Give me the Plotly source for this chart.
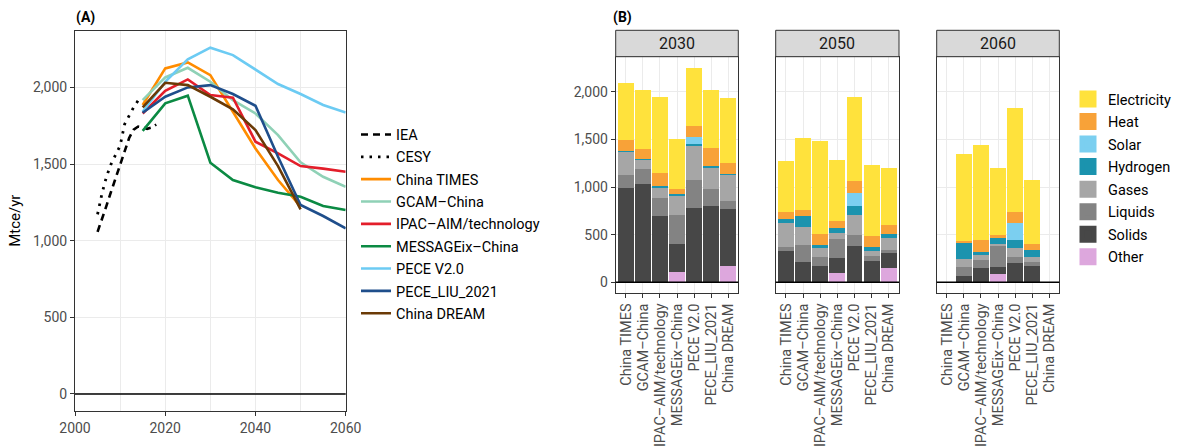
import plotly.graph_objects as go

W, H = 1181, 446

# ---------------- Panel A data ----------------
YEARS = [2015, 2020, 2025, 2030, 2035, 2040, 2045, 2050, 2055, 2060]

IEA_YEARS = list(range(2005, 2019))
IEA_VALUES = [1058, 1140, 1230, 1320, 1410, 1500, 1590, 1670, 1725, 1745, 1740, 1730, 1738, 1758]

CESY_YEARS = list(range(2005, 2015))
CESY_VALUES = [1172, 1310, 1420, 1500, 1560, 1620, 1760, 1820, 1870, 1915]

CHINA_TIMES = [1885, 2124, 2163, 2080, 1841, 1602, 1396, 1222, None, None]
GCAM_CHINA = [1917, 2065, 2128, 2037, 1917, 1830, 1689, 1511, 1417, 1352]
IPAC_AIM = [1830, 1978, 2052, 1950, 1933, 1646, 1570, 1487, 1470, 1450]
MESSAGEIX = [1717, 1896, 1946, 1509, 1396, 1348, 1313, 1287, 1226, 1200]
PECE_V2 = [1841, 2037, 2183, 2259, 2211, 2118, 2022, 1957, 1885, 1837]
PECE_LIU = [1835, 1939, 2000, 2015, 1957, 1880, 1548, 1233, 1161, 1080]
CHINA_DREAM = [1870, 2030, 2015, 1939, 1857, 1722, 1487, 1204, None, None]

MODELS = ["China TIMES", "GCAM–China", "IPAC–AIM/technology", "MESSAGEix–China",
          "PECE V2.0", "PECE_LIU_2021", "China DREAM"]
MODEL_SERIES = [CHINA_TIMES, GCAM_CHINA, IPAC_AIM, MESSAGEIX, PECE_V2, PECE_LIU, CHINA_DREAM]
MODEL_COLORS = ["#FF8C00", "#8FD1B6", "#E31E2A", "#0B8A43", "#6CCBF3", "#1F4E8B", "#6B3A06"]

# ---------------- Panel B data ----------------
CARRIERS = ["Other", "Solids", "Liquids", "Gases", "Hydrogen", "Solar", "Heat", "Electricity"]
CARRIER_COLORS = {
    "Electricity": "#FFE23C", "Heat": "#F8A238", "Solar": "#7BCFF0", "Hydrogen": "#1B93AE",
    "Gases": "#A6A6A6", "Liquids": "#838383", "Solids": "#474747", "Other": "#DDA7DD",
}
FACET_YEARS = ["2030", "2050", "2060"]

# order of values follows MODELS
BARS_2030 = {
    "Other":       [0, 0, 0, 112, 0, 0, 175],
    "Solids":      [991, 1037, 701, 294, 781, 806, 599],
    "Liquids":     [140, 154, 189, 305, 294, 178, 84],
    "Gases":       [242, 102, 112, 203, 365, 228, 273],
    "Hydrogen":    [11, 7, 10, 11, 10, 7, 11],
    "Solar":       [0, 0, 0, 0, 74, 0, 0],
    "Heat":        [115, 105, 140, 59, 122, 196, 116],
    "Electricity": [592, 620, 799, 526, 606, 610, 683],
}
BARS_2050 = {
    "Other":       [0, 0, 0, 102, 0, 0, 154],
    "Solids":      [333, 217, 175, 157, 385, 228, 158],
    "Liquids":     [38, 179, 95, 200, 116, 52, 31],
    "Gases":       [256, 189, 94, 63, 210, 53, 126],
    "Hydrogen":    [42, 116, 32, 52, 95, 42, 42],
    "Solar":       [0, 0, 0, 0, 136, 0, 0],
    "Heat":        [74, 63, 115, 74, 126, 115, 95],
    "Electricity": [536, 756, 978, 641, 883, 747, 599],
}
BARS_2060 = {
    "Other":       [None, 0, 0, 91, 0, 0, None],
    "Solids":      [None, 70, 154, 74, 207, 175, None],
    "Liquids":     [None, 95, 84, 220, 63, 42, None],
    "Gases":       [None, 84, 53, 21, 94, 53, None],
    "Hydrogen":    [None, 168, 31, 63, 84, 73, None],
    "Solar":       [None, 0, 0, 0, 172, 0, None],
    "Heat":        [None, 21, 126, 32, 116, 63, None],
    "Electricity": [None, 914, 999, 704, 1100, 673, None],
}
FACET_DATA = [BARS_2030, BARS_2050, BARS_2060]

# ---------------- Layout geometry (pixels) ----------------
def fx(px):
    return px / W

def fy(py):
    return 1 - py / H

FONT = "Roboto"
TICK_COLOR = "#4D4D4D"
GRID = "#EBEBEB"
BORDER = "#333333"
YRANGE = [-109, 2370]

fig = go.Figure()

# ---- Panel A traces ----
fig.add_trace(go.Scatter(x=IEA_YEARS, y=IEA_VALUES, mode="lines", name="IEA",
                         line=dict(color="black", width=2.6, dash="7px,5px"),
                         xaxis="x", yaxis="y", legend="legend", legendgroup="IEA"))
fig.add_trace(go.Scatter(x=CESY_YEARS, y=CESY_VALUES, mode="lines", name="CESY",
                         line=dict(color="black", width=2.8, dash="2.5px,6px"),
                         xaxis="x", yaxis="y", legend="legend", legendgroup="CESY"))
for name, vals, col in zip(MODELS, MODEL_SERIES, MODEL_COLORS):
    fig.add_trace(go.Scatter(x=YEARS, y=vals, mode="lines", name=name,
                             line=dict(color=col, width=2.6),
                             xaxis="x", yaxis="y", legend="legend", legendgroup=name))

# ---- Panel B traces ----
for i, data in enumerate(FACET_DATA):
    xa = "x%d" % (i + 2)
    ya = "y%d" % (i + 2)
    for c in CARRIERS:
        fig.add_trace(go.Bar(x=MODELS, y=data[c], name=c, showlegend=False,
                             marker=dict(color=CARRIER_COLORS[c], line=dict(width=0)),
                             xaxis=xa, yaxis=ya, legendgroup="b_" + c))

# legend entries for panel B (Electricity on top)
for c in reversed(CARRIERS):
    fig.add_trace(go.Bar(x=[None], y=[None], name=c, showlegend=True,
                         marker=dict(color=CARRIER_COLORS[c],
                                     line=dict(color=CARRIER_COLORS[c], width=5)),
                         xaxis="x2", yaxis="y2", legend="legend2", legendgroup="b_" + c))

# ---- Axes ----
axis_common = dict(showline=True, mirror=True, linecolor=BORDER, linewidth=1,
                   gridcolor=GRID, gridwidth=1, zeroline=False, automargin=False,
                   tickfont=dict(family=FONT, size=14, color=TICK_COLOR),
                   ticks="outside", ticklen=4, tickcolor=BORDER)

layout = dict(
    width=W, height=H, margin=dict(l=0, r=0, t=0, b=0, autoexpand=False),
    paper_bgcolor="white", plot_bgcolor="white",
    barmode="stack", bargap=0.07,
    font=dict(family=FONT, size=13, color="black"),
    xaxis=dict(axis_common, domain=[fx(75), fx(345.7)], range=[2000, 2060],
               dtick=20, tick0=2000, anchor="y",
               minor=dict(dtick=10, showgrid=True, gridcolor=GRID, ticks="")),
    yaxis=dict(axis_common, domain=[fy(410.7), fy(30.7)], range=YRANGE,
               tickvals=[0, 500, 1000, 1500, 2000], tickformat=",", anchor="x",
               title=dict(text="Mtce/yr", font=dict(family=FONT, size=15, color="black"),
                          standoff=8)),
)

facet_x = [(615.7, 738.3), (775.7, 899.0), (936.7, 1059.3)]
for i, (a, b) in enumerate(facet_x):
    k = i + 2
    layout["xaxis%d" % k] = dict(axis_common, domain=[fx(a), fx(b)], type="category",
                                 categoryorder="array", categoryarray=MODELS,
                                 tickmode="array", tickvals=MODELS, ticktext=MODELS,
                                 range=[-0.6, 6.6], anchor="y%d" % k, tickangle=-90,
                                 tickfont=dict(family=FONT, size=14.5, color=TICK_COLOR))
    ya = dict(axis_common, domain=[fy(292.7), fy(56.7)], range=YRANGE,
              tickvals=[0, 500, 1000, 1500, 2000], tickformat=",",
              anchor="x%d" % k, showgrid=True)
    if k > 2:
        ya.update(matches="y2", showticklabels=False, ticks="")
    layout["yaxis%d" % k] = ya

layout["legend"] = dict(x=fx(356), y=fy(118.5), xanchor="left", yanchor="top",
                        font=dict(family=FONT, size=14.5, color="black"),
                        tracegroupgap=0.5, bgcolor="rgba(0,0,0,0)", traceorder="grouped")
layout["legend2"] = dict(x=fx(1068), y=fy(83), xanchor="left", yanchor="top",
                         font=dict(family=FONT, size=14.5, color="black"),
                         tracegroupgap=0.7, bgcolor="rgba(0,0,0,0)", traceorder="grouped",
                         itemsizing="trace")

fig.update_layout(**layout)

# ---- Shapes: zero lines, strips ----
shapes = []
shapes.append(dict(type="line", xref="x domain", x0=0, x1=1, yref="y", y0=0, y1=0,
                   line=dict(color="black", width=1.4), layer="above"))
for i, yr in enumerate(FACET_YEARS):
    k = i + 2
    xr = "x%d domain" % k
    shapes.append(dict(type="line", xref=xr, x0=0, x1=1, yref="y%d" % k, y0=0, y1=0,
                       line=dict(color="black", width=1.4), layer="above"))
    shapes.append(dict(type="rect", xref=xr, x0=0, x1=1, yref="paper",
                       y0=fy(56.7), y1=fy(30.3), fillcolor="#D9D9D9",
                       line=dict(color=BORDER, width=1), layer="above"))
fig.update_layout(shapes=shapes)

annots = [
    dict(text="<b>(A)</b>", x=fx(74), y=fy(17), xref="paper", yref="paper",
         xanchor="left", yanchor="middle", showarrow=False,
         font=dict(family=FONT, size=14, color="black")),
    dict(text="<b>(B)</b>", x=fx(611), y=fy(17), xref="paper", yref="paper",
         xanchor="left", yanchor="middle", showarrow=False,
         font=dict(family=FONT, size=14, color="black")),
]
for i, yr in enumerate(FACET_YEARS):
    k = i + 2
    annots.append(dict(text=yr, x=0.5, xref="x%d domain" % k, y=fy(43.5), yref="paper",
                       xanchor="center", yanchor="middle", showarrow=False,
                       font=dict(family=FONT, size=16, color="#1A1A1A")))
fig.update_layout(annotations=annots)

fig.write_html("out.html")
